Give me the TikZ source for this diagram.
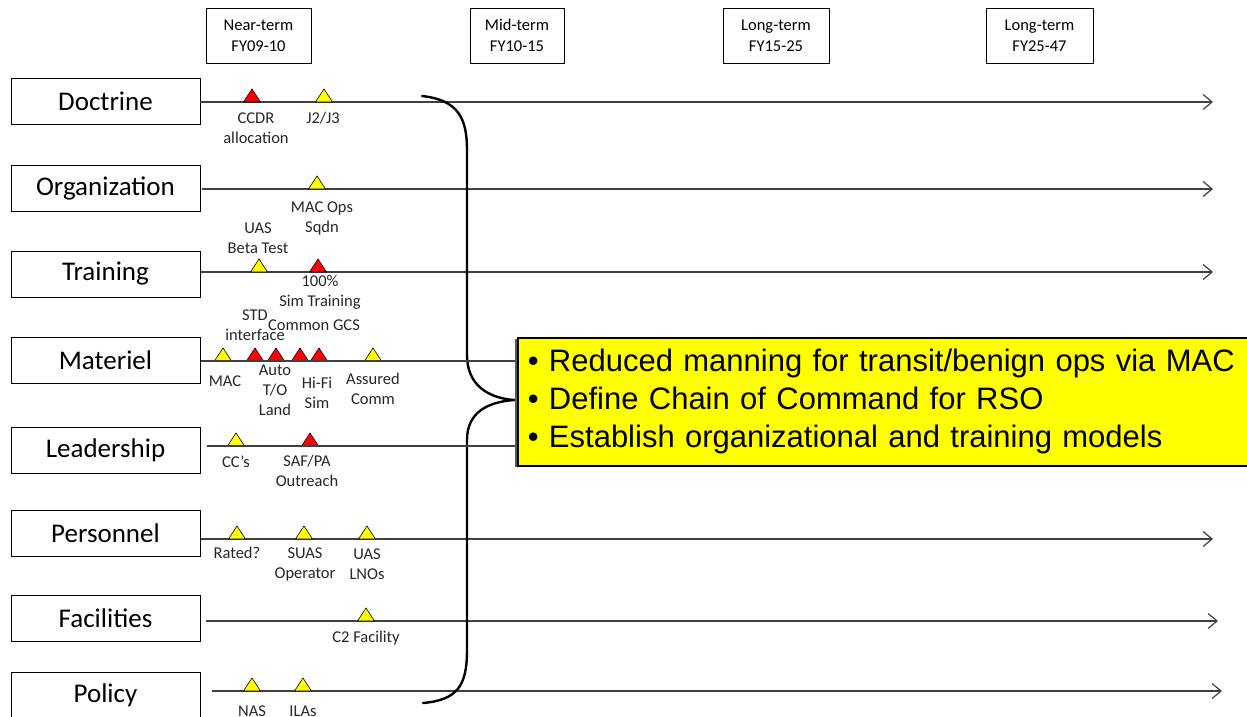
\documentclass[tikz,border=0pt]{standalone}
\usepackage{fontspec}
\setmainfont{Carlito}
\newfontfamily\arialf{Liberation Sans}
\usetikzlibrary{arrows.meta}
\definecolor{mred}{HTML}{FF0000}
\definecolor{myel}{HTML}{FFFF00}
\definecolor{lgray}{HTML}{404040}
\tikzset{
  mile/.pic={\draw[fill=#1, line width=0.6pt, line join=miter] (-8.5,0) -- (0,-13) -- (8.5,0) -- cycle;}
}
\begin{document}
\begin{tikzpicture}[x=1pt,y=-1pt,
  cat/.style={draw, line width=0.9pt, minimum width=189pt, minimum height=46pt, inner sep=0pt, font=\fontsize{27}{30}\selectfont},
  hdr/.style={draw, line width=0.9pt, minimum height=55pt, inner sep=0pt, align=center, font=\fontsize{16.5}{21}\selectfont},
  lab/.style={align=center, inner sep=0pt, text=black!85, font=\fontsize{16.5}{20}\selectfont},
  tline/.style={draw=lgray, line width=1.2pt, -{Straight Barb[length=9pt,width=15pt,line width=1.2pt]}},
  pline/.style={draw=lgray, line width=1.2pt},
  brace/.style={draw=black, line width=2.4pt, line cap=round},
  goalbox/.style={draw, line width=1.6pt, fill=myel, minimum width=745pt, minimum height=128pt, inner xsep=10pt, text width=725pt, align=left, anchor=north west, font=\arialf\fontsize{31}{38}\selectfont}
]
\useasboundingbox (0,0) rectangle (1247,717);
\clip (0,0) rectangle (1247,717);

% header boxes
\node[hdr, minimum width=105pt] (near) at (258.5,35.5) {Near-term\\FY09-10};
\node[hdr, minimum width=94pt] (mid) at (517,35.5) {Mid-term\\FY10-15};
\node[hdr, minimum width=106pt] (long1) at (776,35.5) {Long-term\\FY15-25};
\node[hdr, minimum width=107pt] (long2) at (1039.5,35.5) {Long-term\\FY25-47};

% category boxes
\node[cat] (doc) at (105.5,101.5) {Doctrine};
\node[cat] (org) at (105.5,188) {Organization};
\node[cat] (tra) at (105.5,274) {Training};
\node[cat] (mat) at (105.5,360) {Materiel};
\node[cat] (lea) at (105.5,450.5) {Leadership};
\node[cat] (per) at (105.5,533) {Personnel};
\node[cat] (fac) at (105.5,618.5) {Facilities};
\node[cat] (pol) at (105.5,695) {Policy};

% line coordinates
\coordinate (docS) at (200,102);  \coordinate (docE) at (1213,102);
\coordinate (orgS) at (202,189);  \coordinate (orgE) at (1213,189);
\coordinate (traS) at (201,272);  \coordinate (traE) at (1213,272);
\coordinate (matS) at (201,361);
\coordinate (leaS) at (207,446);
\coordinate (perS) at (201,539);  \coordinate (perE) at (1213,539);
\coordinate (facS) at (206,621);  \coordinate (facE) at (1218,621);
\coordinate (polS) at (212,691);  \coordinate (polE) at (1222,691);

\draw[tline] (docS) -- (docE);
\draw[tline] (orgS) -- (orgE);
\draw[tline] (traS) -- (traE);
\draw[tline] (perS) -- (perE);
\draw[tline] (facS) -- (facE);
\draw[tline] (polS) -- (polE);

% milestones: Doctrine
\pic at (252,102) {mile=mred};
\pic at (324,102) {mile=myel};
\node[lab] (l1) at (256,128) {CCDR\\allocation};
\node[lab] (l2) at (323,118) {J2/J3};
% Organization
\pic at (317,189) {mile=myel};
\node[lab] (l3) at (322,218) {MAC Ops\\Sqdn};
% Training
\pic at (259,272) {mile=myel};
\pic at (318,272) {mile=mred};
\node[lab] (l4) at (258,238) {UAS\\Beta Test};
\node[lab] (l5) at (320,292) {100\%\\Sim Training};
% Materiel
\pic at (223,361) {mile=myel};
\pic at (255,361) {mile=mred};
\pic at (276,361) {mile=mred};
\pic at (300,361) {mile=mred};
\pic at (319,361) {mile=mred};
\pic at (373,361) {mile=myel};
\node[lab] (l6) at (255,325) {STD\\interface};
\node[lab] (l7) at (314,325) {Common GCS};
\node[lab] (l8) at (225,381) {MAC};
\node[lab] (l9) at (275,390) {Auto\\T/O\\Land};
\node[lab] (l10) at (317,393) {Hi-Fi\\Sim};
\node[lab] (l11) at (373,389) {Assured\\Comm};
% Leadership
\pic at (236,446) {mile=myel};
\pic at (310,446) {mile=mred};
\node[lab] (l12) at (236,462) {CC’s};
\node[lab] (l13) at (307,471) {SAF/PA\\Outreach};
% Personnel
\pic at (237,539) {mile=myel};
\pic at (304,539) {mile=myel};
\pic at (367,539) {mile=myel};
\node[lab] (l14) at (237,553) {Rated?};
\node[lab] (l15) at (305,564) {SUAS\\Operator};
\node[lab] (l16) at (367,564) {UAS\\LNOs};
% Facilities
\pic at (366,621) {mile=myel};
\node[lab] (l17) at (366,638) {C2 Facility};
% Policy
\pic at (252,691) {mile=myel};
\pic at (303,691) {mile=myel};
\node[lab] (l18) at (252,711) {NAS};
\node[lab] (l19) at (303,711) {ILAs};

% brace
\draw[brace] (422,96) .. controls (458,100) and (467,118) .. (467,150)
  -- (467,355) .. controls (467,385) and (488,398) .. (514,400)
  .. controls (488,402) and (467,412) .. (467,440)
  -- (467,650) .. controls (467,685) and (458,700) .. (423,703);

% goals box
\draw[pline] (matS) -- (530,361);
\draw[pline] (leaS) -- (530,446);
\fill[black!65] (515,339) rectangle (1262,467);
\node[goalbox] (goals) at (517,337) {• Reduced manning for transit/benign ops via MAC\\• Define Chain of Command for RSO\\• Establish organizational and training models};
\end{tikzpicture}
\end{document}
